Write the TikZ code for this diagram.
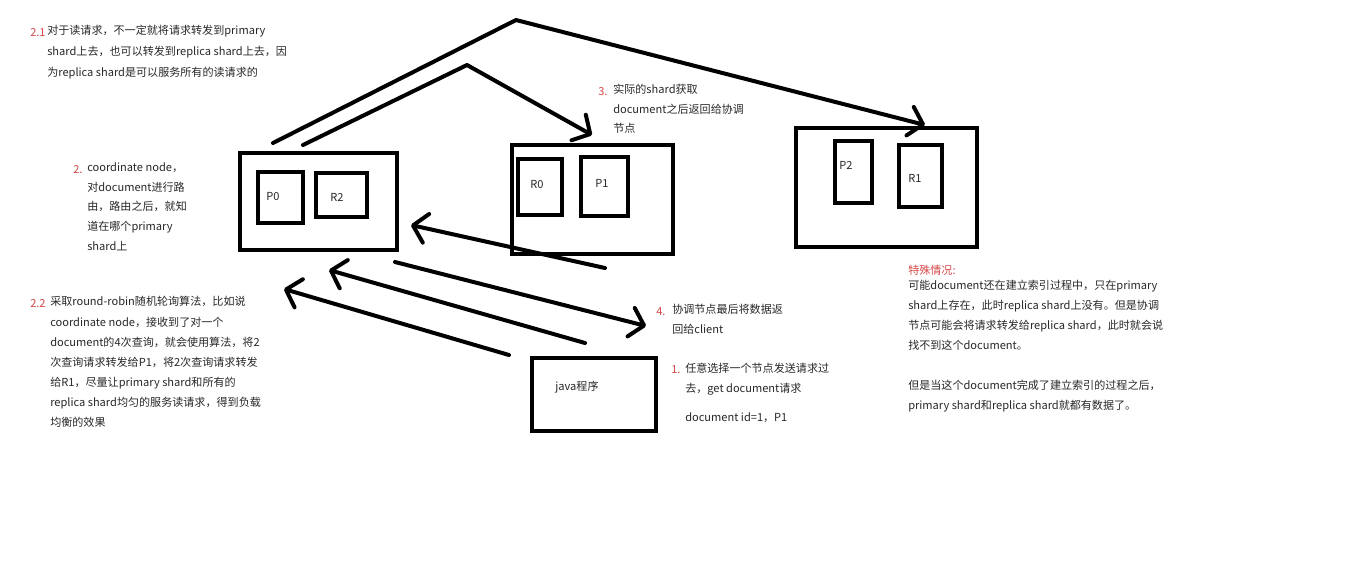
\documentclass[tikz,border=0pt]{standalone}
\usepackage{fontspec}
\newfontfamily\cjk{Noto Sans CJK SC}
\usetikzlibrary{arrows.meta,fit}
\definecolor{numred}{RGB}{214,72,72}
\definecolor{ink}{RGB}{40,40,40}
\newcommand\topline{\rule{0pt}{8pt}}

\begin{document}
\begin{tikzpicture}[x=0.75pt,y=-0.75pt,
  frame/.style={draw,line width=3.4pt,inner sep=0pt},
  shard/.style={draw,line width=3pt,inner sep=0pt},
  arr/.style={line width=3pt,line cap=round,-{Straight Barb[length=10pt,width=22pt,round]}},
  txt/.style={anchor=north west,yshift=8pt,align=left,inner sep=0pt,text=ink,font=\cjk\fontsize{8.3pt}{15pt}\selectfont,execute at begin node=\topline},
  num/.style={anchor=base west,inner sep=0pt,text=numred,font=\cjk\fontsize{8.3pt}{15pt}\selectfont},
  lbl/.style={inner sep=0pt,text=ink,font=\cjk\fontsize{8.3pt}{10pt}\selectfont}]
 \fill[white] (0,0) rectangle (1360,561);
 \useasboundingbox (0,0) rectangle (1360,561);

 % nodes holding shards
 \coordinate (na1) at (240,153); \coordinate (na2) at (397,250);
 \coordinate (nb1) at (512,145); \coordinate (nb2) at (673,254);
 \coordinate (nc1) at (796,128); \coordinate (nc2) at (977,247);
 \coordinate (jv1) at (532,358); \coordinate (jv2) at (656,431);
 \node[frame,fit=(na1)(na2)] (nodeA) {};
 \node[frame,fit=(nb1)(nb2)] (nodeB) {};
 \node[frame,fit=(nc1)(nc2)] (nodeC) {};
 \node[frame,fit=(jv1)(jv2)] (java) {};

 % shards
 \coordinate (p0a) at (258,172); \coordinate (p0b) at (303,223);
 \coordinate (r2a) at (316,173); \coordinate (r2b) at (367,217);
 \coordinate (r0a) at (518,159); \coordinate (r0b) at (562,215);
 \coordinate (p1a) at (581,157); \coordinate (p1b) at (628,216);
 \coordinate (p2a) at (835,141); \coordinate (p2b) at (872,203);
 \coordinate (r1a) at (899,145); \coordinate (r1b) at (942,207);
 \node[shard,fit=(p0a)(p0b)] (P0) {};
 \node[shard,fit=(r2a)(r2b)] (R2) {};
 \node[shard,fit=(r0a)(r0b)] (R0) {};
 \node[shard,fit=(p1a)(p1b)] (P1) {};
 \node[shard,fit=(p2a)(p2b)] (P2) {};
 \node[shard,fit=(r1a)(r1b)] (R1) {};
 \node[lbl] (lP0) at (273,197) {P0};
 \node[lbl] (lR2) at (337,197) {R2};
 \node[lbl] (lR0) at (537,185) {R0};
 \node[lbl] (lP1) at (602,183) {P1};
 \node[lbl] (lP2) at (846,165) {P2};
 \node[lbl] (lR1) at (915,178) {R1};
 \node[lbl] (ljava) at (577,387) {java程序};

 % request paths
 \coordinate (s1) at (273,143); \coordinate (k1) at (516,20); \coordinate (e1) at (925,125);
 \coordinate (s2) at (303,145); \coordinate (k2) at (467,65); \coordinate (e2) at (592,135);
 \coordinate (s3) at (605,268); \coordinate (e3) at (411,225);
 \coordinate (s4) at (395,262); \coordinate (e4) at (646,326);
 \coordinate (s5) at (585,343); \coordinate (e5) at (329,270);
 \coordinate (s6) at (509,355); \coordinate (e6) at (284,289);
 \draw[arr,line join=round] (s1) -- (k1) -- (e1);
 \draw[arr,line join=round] (s2) -- (k2) -- (e2);
 \draw[arr] (s3) -- (e3);
 \draw[arr] (s4) -- (e4);
 \draw[arr] (s5) -- (e5);
 \draw[arr] (s6) -- (e6);

 % notes
 \node[num] (n21) at (30,36) {2.1};
 \node[txt,font=\cjk\fontsize{8.3pt}{15.6pt}\selectfont] (t21) at (47,36) {对于读请求，不一定就将请求转发到primary\\shard上去，也可以转发到replica shard上去，因\\为replica shard是可以服务所有的读请求的};
 \node[num] (n2) at (73,173) {2.};
 \node[txt,font=\cjk\fontsize{8.3pt}{14.8pt}\selectfont] (t2) at (87,173) {coordinate node，\\对document进行路\\由，路由之后，就知\\道在哪个primary\\shard上};
 \node[num] (n22) at (30,307) {2.2};
 \node[txt,font=\cjk\fontsize{8.3pt}{15.1pt}\selectfont] (t22) at (50,307) {采取round-robin随机轮询算法，比如说\\coordinate node，接收到了对一个\\document的4次查询，就会使用算法，将2\\次查询请求转发给P1，将2次查询请求转发\\给R1，尽量让primary shard和所有的\\replica shard均匀的服务读请求，得到负载\\均衡的效果};
 \node[num] (n3) at (598,95) {3.};
 \node[txt,font=\cjk\fontsize{8.3pt}{14.6pt}\selectfont] (t3) at (613,95) {实际的shard获取\\document之后返回给协调\\节点};
 \node[num] (n4) at (656,315) {4.};
 \node[txt,font=\cjk\fontsize{8.3pt}{14.4pt}\selectfont] (t4) at (672,315) {协调节点最后将数据返\\回给client};
 \node[num] (n1) at (671,373) {1.};
 \node[txt] (t1) at (685,373) {任意选择一个节点发送请求过\\去，get document请求};
 \node[txt] (t1b) at (685,421) {document id=1，P1};
 \node[num] (nsp) at (908,274) {特殊情况:};
 \node[txt] (tsp) at (908,291) {可能document还在建立索引过程中，只在primary\\shard上存在，此时replica shard上没有。但是协调\\节点可能会将请求转发给replica shard，此时就会说\\找不到这个document。\\[15pt]但是当这个document完成了建立索引的过程之后，\\primary shard和replica shard就都有数据了。};
\end{tikzpicture}
\end{document}
